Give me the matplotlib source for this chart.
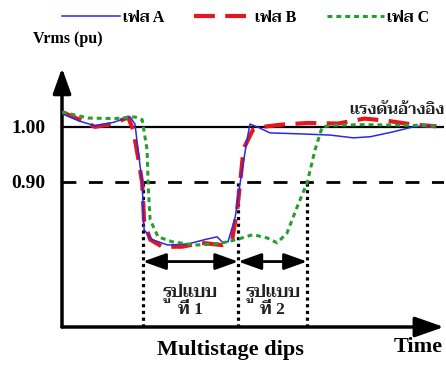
import matplotlib
matplotlib.use('Agg')
import matplotlib.pyplot as plt

plt.rcParams['font.family'] = ['Liberation Serif', 'Taviraj']
plt.rcParams['font.weight'] = 'bold'

# --- ข้อมูล (อ่านจากภาพ) ---
t_a = [0, 0.48, 0.87, 1.35, 1.80, 1.93, 1.98, 2.12, 2.17, 2.38, 2.80, 3.33, 3.78, 4.10,
       4.23, 4.39, 4.58, 4.71, 4.89, 4.97, 5.16, 5.50, 6.38, 7.09, 7.70, 8.15, 8.76, 9.29, 9.87]
v_a = [1.024, 1.010, 1.002, 1.008, 1.018, 1.005, 0.976, 0.898, 0.813, 0.795, 0.785, 0.787,
       0.795, 0.800, 0.791, 0.791, 0.836, 0.898, 0.976, 1.005, 1.000, 0.989, 0.987, 0.985,
       0.980, 0.982, 0.991, 1.000, 1.002]

t_b = [0, 0.5, 0.87, 1.3, 1.75, 1.88, 2.01, 2.12, 2.17, 2.33, 2.65, 3.17, 3.70, 4.23, 4.50,
       4.63, 4.71, 4.80, 5.05, 5.32, 5.8, 6.5, 7.3, 8.0, 8.6, 9.3, 9.9]
v_b = [1.027, 1.012, 1.000, 1.005, 1.017, 0.995, 0.945, 0.898, 0.829, 0.795, 0.782, 0.782,
       0.789, 0.785, 0.795, 0.849, 0.898, 0.960, 0.995, 1.000, 1.004, 1.007, 1.006, 1.015,
       1.011, 1.004, 1.001]

t_c = [0, 0.69, 1.40, 1.93, 2.12, 2.25, 2.28, 2.33, 2.54, 2.91, 3.52, 4.05, 4.39, 4.76,
       5.05, 5.42, 5.69, 5.95, 6.22, 6.48, 6.69, 6.88, 7.2, 8.0, 9.0, 9.9]
v_c = [1.027, 1.016, 1.015, 1.018, 1.013, 0.958, 0.891, 0.831, 0.800, 0.791, 0.785, 0.787,
       0.791, 0.798, 0.804, 0.798, 0.789, 0.807, 0.855, 0.898, 0.958, 1.000, 1.003, 1.004,
       1.003, 1.002]

v_ref = 1.00
v_thr = 0.90
t_marks = [2.14, 4.66, 6.48]      # จุดข้าม 0.90
labels = ['เฟส A', 'เฟส B', 'เฟส C']
stage_labels = ['รูปแบบ\nที่ 1', 'รูปแบบ\nที่ 2']

# --- รูป ---
fig = plt.figure(figsize=(4.46, 3.65), dpi=100)
ax = fig.add_axes([62 / 446, 38 / 365, 382 / 446, 259 / 365])
ymin, ymax = 0.636, 1.107
ax.set_xlim(0, 10.1)
ax.set_ylim(ymin, ymax)
for s in ax.spines.values():
    s.set_visible(False)
ax.set_xticks([])
ax.set_yticks([v_thr, v_ref])
ax.set_yticklabels(['0.90', '1.00'], fontsize=14, fontweight='bold')
ax.tick_params(axis='y', length=0, pad=12)

# เส้นอ้างอิง
ax.plot([0, 10.1], [v_ref, v_ref], color='black', lw=1.6, zorder=2)
ax.plot([0, 10.1], [v_thr, v_thr], color='black', lw=2, dashes=(5, 4.5), zorder=2)

# เส้นประแนวตั้ง
for tm in t_marks:
    ax.plot([tm, tm], [ymin, v_thr], color='black', lw=2.3, dashes=(1, 1.1), zorder=2)

# ข้อมูล 3 เฟส
l_b, = ax.plot(t_b, v_b, color='#e5171c', lw=3, dashes=(5, 2.5), zorder=3)
l_a, = ax.plot(t_a, v_a, color='#2a2ae0', lw=1.1, zorder=4)
l_c, = ax.plot(t_c, v_c, color='#23a02e', lw=2.2, dashes=(1.6, 1.3), zorder=5)

# แกน (ลูกศร)
ax.annotate('', xy=(0, ymax), xytext=(0, ymin),
            arrowprops=dict(arrowstyle='-|>,head_length=0.7,head_width=0.25', lw=2.5,
                            color='black', mutation_scale=22, shrinkA=0, shrinkB=0),
            annotation_clip=False)
ax.annotate('', xy=(10.1, ymin), xytext=(0, ymin),
            arrowprops=dict(arrowstyle='-|>,head_length=0.8,head_width=0.28', lw=2.5,
                            color='black', mutation_scale=22, shrinkA=0, shrinkB=0),
            annotation_clip=False)

# ลูกศรสองทาง
y_arr = 0.755
for i in range(2):
    ax.annotate('', xy=(t_marks[i + 1], y_arr), xytext=(t_marks[i], y_arr),
                arrowprops=dict(arrowstyle='<|-|>,head_length=0.7,head_width=0.25', lw=2,
                                color='black', mutation_scale=20, shrinkA=0, shrinkB=0))
    ax.text((t_marks[i] + t_marks[i + 1]) / 2, 0.684, stage_labels[i], ha='center',
            va='center', fontsize=12.5, fontweight=600, linespacing=1.0, color='#222222')

ax.text(10.1, 1.031, 'แรงดันอ้างอิง', ha='right', va='center', fontsize=11.5,
        fontweight=600, color='#222222')

fig.text(33 / 446, 1 - 39 / 365, 'Vrms (pu)', ha='left', va='center', fontsize=11.5,
         fontweight='bold')
fig.text(230 / 446, 1 - 350 / 365, 'Multistage dips', ha='center', va='center',
         fontsize=16, fontweight='bold')
fig.text(443 / 446, 1 - 347 / 365, 'Time', ha='right', va='center', fontsize=16,
         fontweight='bold')

fig.legend([l_a, l_b, l_c], labels, loc='center left', bbox_to_anchor=(62 / 446, 1 - 18 / 365),
           ncol=3, frameon=False, handlelength=3.6, handletextpad=0.2,
           columnspacing=1.9, borderpad=0, borderaxespad=0,
           prop={'size': 11.5, 'weight': 600})

fig.savefig('out.png', dpi=100, facecolor='white')
